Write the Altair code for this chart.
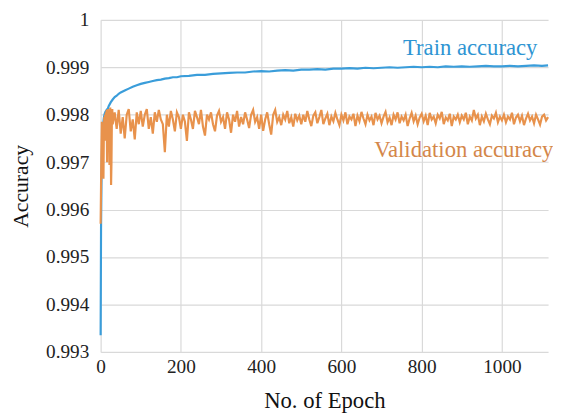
import altair as alt
import pandas as pd

train_epoch = [0, 1, 2, 3, 4, 5, 6, 8, 10, 12, 15, 18, 20, 25, 30, 35, 40, 45, 50,
               60, 70, 80, 90, 100, 110, 120, 130, 140, 150, 160, 170, 180, 190, 200,
               220, 240, 260, 280, 300, 320, 340, 360, 380, 400, 420, 440, 460, 480, 500,
               520, 540, 560, 580, 600, 620, 640, 660, 680, 700, 720, 740, 760, 780, 800,
               820, 840, 860, 880, 900, 920, 940, 960, 980, 1000, 1020, 1040, 1060, 1080,
               1100, 1115]
train_acc = [0.99335, 0.99560, 0.99650, 0.99710, 0.99745, 0.99765, 0.99778, 0.99793, 0.99802,
             0.99806, 0.99810, 0.99813, 0.99818, 0.99826, 0.99832, 0.99837, 0.99840, 0.99844, 0.99847,
             0.99851, 0.99855, 0.99859, 0.99862, 0.99865, 0.99867, 0.99869, 0.99871, 0.99873, 0.99874,
             0.99876, 0.99877, 0.99879, 0.99879, 0.99881,
             0.99882, 0.99884, 0.99884, 0.99886, 0.99887, 0.99888, 0.99889, 0.99889, 0.99891, 0.99892,
             0.99891, 0.99893, 0.99894, 0.99893, 0.99895,
             0.99895, 0.99896, 0.99895, 0.99897, 0.99897, 0.99898, 0.99897, 0.99899, 0.99898, 0.99899,
             0.99900, 0.99899, 0.99900, 0.99901, 0.99900,
             0.99901, 0.99900, 0.99902, 0.99901, 0.99902, 0.99901, 0.99902, 0.99903, 0.99902, 0.99902,
             0.99903, 0.99902, 0.99903, 0.99904, 0.99903, 0.99904]

val_epoch = list(range(0, 31)) + list(range(35, 1116, 5))
val_acc = [
    0.99570, 0.99650, 0.99730, 0.99785, 0.99680, 0.99670, 0.99690, 0.99665, 0.99760, 0.99795,
    0.99780, 0.99800, 0.99745, 0.99805, 0.99760, 0.99810, 0.99700, 0.99790, 0.99812, 0.99770,
    0.99805, 0.99790, 0.99694, 0.99800, 0.99815, 0.99760, 0.99652, 0.99700, 0.99790, 0.99812,
    0.99780,
    # 35-100
    0.99805, 0.99770, 0.99810, 0.99760, 0.99795, 0.99750, 0.99800, 0.99812, 0.99765, 0.99790,
    0.99748, 0.99805, 0.99780, 0.99808,
    # 105-200
    0.99775, 0.99800, 0.99812, 0.99770, 0.99795, 0.99760, 0.99805, 0.99785, 0.99810, 0.99790,
    0.99780, 0.99721, 0.99800, 0.99775, 0.99808, 0.99790, 0.99765, 0.99805, 0.99795, 0.99770,
    # 205-300
    0.99800, 0.99785, 0.99745, 0.99805, 0.99790, 0.99770, 0.99808, 0.99795, 0.99780, 0.99810,
    0.99775, 0.99756, 0.99800, 0.99790, 0.99805, 0.99780, 0.99765, 0.99798, 0.99808, 0.99785,
    # 305-400
    0.99795, 0.99770, 0.99805, 0.99790, 0.99762, 0.99800, 0.99785, 0.99808, 0.99775, 0.99795,
    0.99780, 0.99805, 0.99790, 0.99772, 0.99800, 0.99810, 0.99785, 0.99795, 0.99770, 0.99800,
    # 405-500
    0.99766, 0.99790, 0.99805, 0.99780, 0.99758, 0.99800, 0.99810, 0.99785, 0.99795, 0.99778,
    0.99800, 0.99790, 0.99808, 0.99782, 0.99795, 0.99775, 0.99802, 0.99788, 0.99798, 0.99780,
    # 505-600
    0.99800, 0.99785, 0.99808, 0.99790, 0.99776, 0.99798, 0.99805, 0.99782, 0.99795, 0.99810,
    0.99780, 0.99792, 0.99802, 0.99778, 0.99796, 0.99786, 0.99804, 0.99790, 0.99778, 0.99800,
    # 605-700
    0.99788, 0.99805, 0.99780, 0.99796, 0.99790, 0.99802, 0.99776, 0.99798, 0.99786, 0.99806,
    0.99792, 0.99780, 0.99800, 0.99788, 0.99796, 0.99778, 0.99804, 0.99790, 0.99798, 0.99782,
    # 705-800
    0.99796, 0.99806, 0.99784, 0.99794, 0.99778, 0.99800, 0.99790, 0.99805, 0.99782, 0.99796,
    0.99788, 0.99800, 0.99776, 0.99792, 0.99804, 0.99786, 0.99798, 0.99780, 0.99794, 0.99802,
    # 805-900
    0.99786, 0.99798, 0.99778, 0.99804, 0.99790, 0.99796, 0.99782, 0.99800, 0.99792, 0.99806,
    0.99780, 0.99794, 0.99788, 0.99802, 0.99776, 0.99796, 0.99790, 0.99800, 0.99784, 0.99798,
    # 905-1000
    0.99790, 0.99804, 0.99780, 0.99796, 0.99788, 0.99810, 0.99792, 0.99800, 0.99778, 0.99796,
    0.99786, 0.99802, 0.99790, 0.99780, 0.99798, 0.99792, 0.99804, 0.99784, 0.99796, 0.99788,
    # 1005-1100
    0.99800, 0.99784, 0.99796, 0.99790, 0.99804, 0.99780, 0.99794, 0.99800, 0.99786, 0.99798,
    0.99778, 0.99792, 0.99802, 0.99788, 0.99796, 0.99782, 0.99800, 0.99790, 0.99779, 0.99796,
    # 1105-1115
    0.99800, 0.99788, 0.99795,
]

series_names = ["Train accuracy", "Validation accuracy"]
series_colors = ["#3A9DDA", "#E8924C"]
label_colors = ["#2E95D3", "#D4874A"]
label_epoch = [921, 905]
label_acc = [0.99941, 0.99725]

df = pd.concat([
    pd.DataFrame({"epoch": train_epoch, "acc": train_acc, "series": series_names[0]}),
    pd.DataFrame({"epoch": val_epoch, "acc": val_acc, "series": series_names[1]}),
])
labels = pd.DataFrame({"epoch": label_epoch, "acc": label_acc, "series": series_names})

FONT = "Liberation Serif"

x = alt.X("epoch:Q", title="No. of Epoch",
          scale=alt.Scale(domain=[0, 1115], nice=False, zero=False),
          axis=alt.Axis(values=[0, 200, 400, 600, 800, 1000], format="d", labelFlush=False,
                        labelPadding=6, titlePadding=14, titleFontSize=23))
y = alt.Y("acc:Q", title="Accuracy",
          scale=alt.Scale(domain=[0.993, 1.0], nice=False, zero=False),
          axis=alt.Axis(values=[0.993, 0.994, 0.995, 0.996, 0.997, 0.998, 0.999, 1.0],
                        labelExpr="datum.value >= 0.99999 ? '1' : format(datum.value, '.3f')",
                        labelPadding=12, titlePadding=13, titleFontSize=22))

color = alt.Color("series:N", scale=alt.Scale(domain=series_names, range=series_colors), legend=None)

lines = alt.Chart(df).mark_line(strokeWidth=2.2).encode(x=x, y=y, color=color, order="epoch:Q")

text = alt.Chart(labels).mark_text(font=FONT, fontSize=23, align="center", baseline="middle").encode(
    x="epoch:Q", y="acc:Q",
    color=alt.Color("series:N", scale=alt.Scale(domain=series_names, range=label_colors), legend=None),
    text="series:N")

chart = alt.layer(lines, text).resolve_scale(color="independent").properties(
    width=454, height=337,
    autosize=alt.AutoSizeParams(type="none"),
    padding={"left": 94, "top": 9, "right": 5, "bottom": 61}
).configure_view(stroke=None).configure_axis(
    grid=True, gridColor="#D9D9D9", gridWidth=1.2, domain=False, ticks=False,
    labelFont=FONT, labelFontSize=19.5, labelColor="#222222",
    titleFont=FONT, titleColor="#111111", titleFontWeight="normal"
)

chart.save("out.html", embed_options={"renderer": "svg", "actions": False})
